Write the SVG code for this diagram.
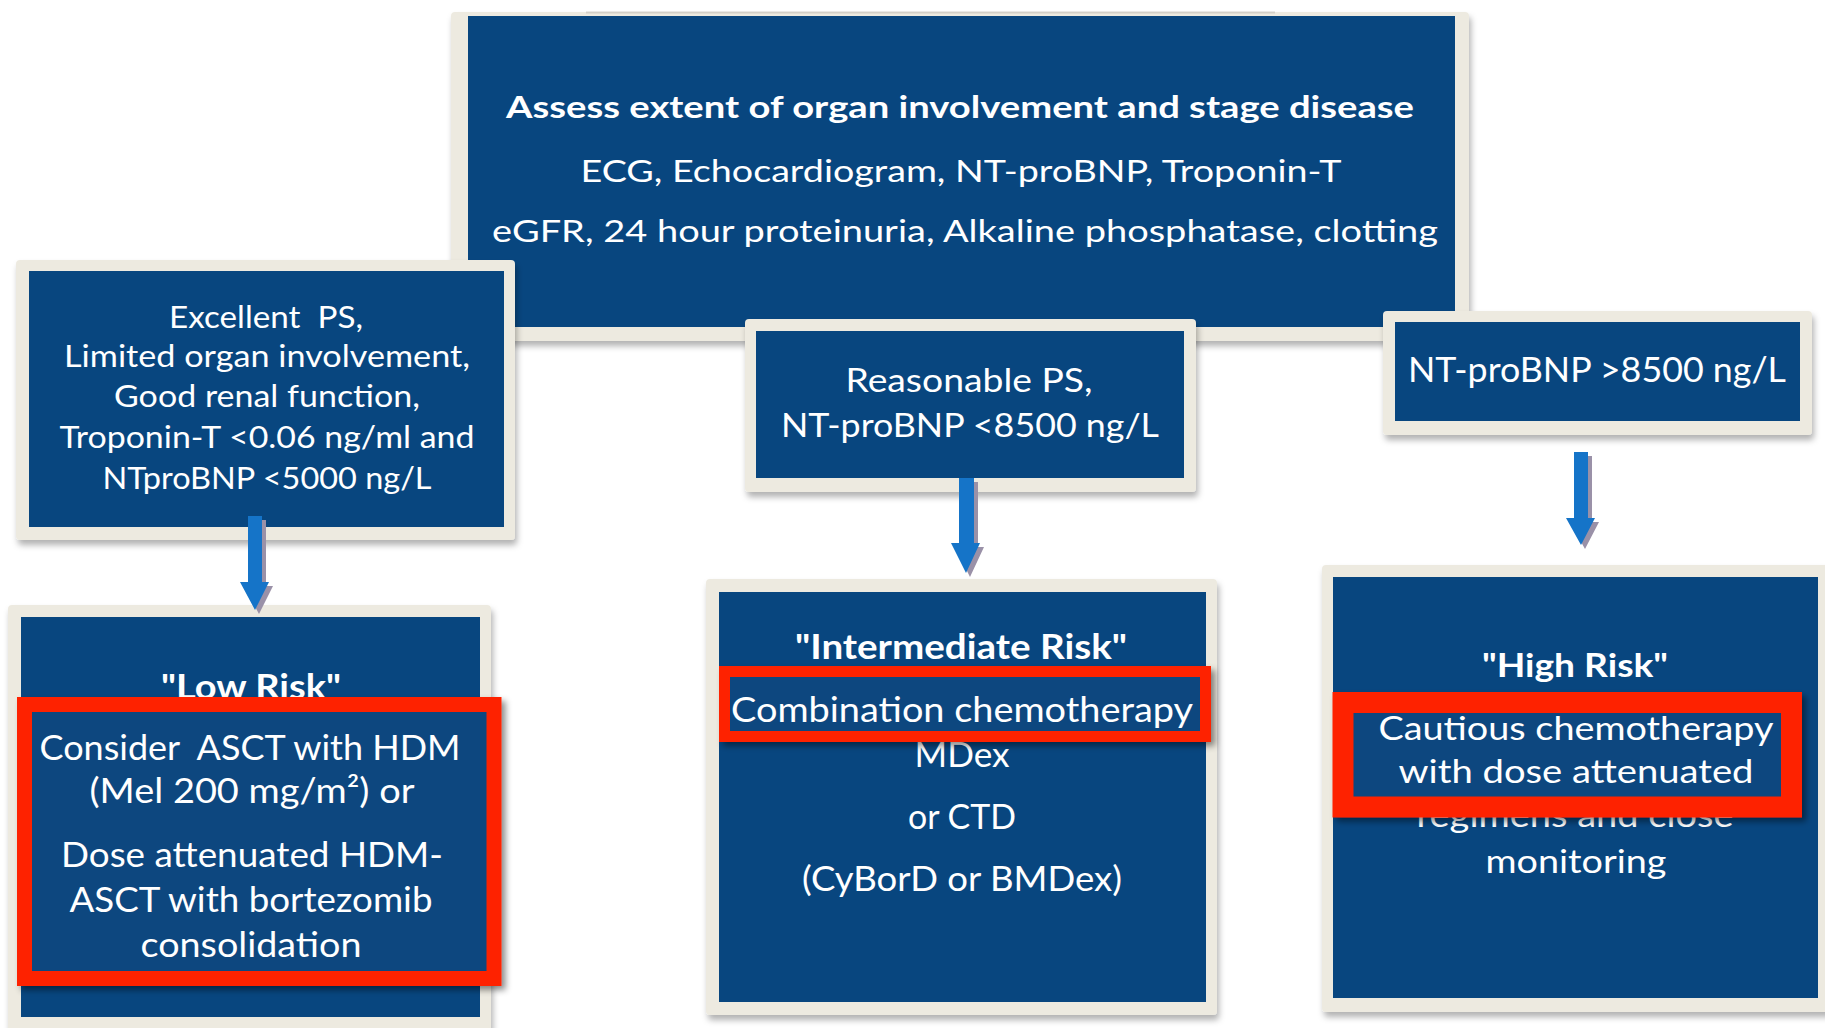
<svg xmlns="http://www.w3.org/2000/svg" width="1825" height="1028" viewBox="0 0 1825 1028">
<defs>
<filter id="sh" x="-10%" y="-10%" width="125%" height="130%">
<feDropShadow dx="2" dy="5" stdDeviation="3" flood-color="#000" flood-opacity="0.3"/>
</filter>
<filter id="rsh" x="-10%" y="-20%" width="125%" height="150%">
<feDropShadow dx="4" dy="4" stdDeviation="3" flood-color="#000" flood-opacity="0.45"/>
</filter>
<style>
.cream{fill:#EDEAE0;}
.blue{fill:#08467F;}
.red{fill:#08467F;stroke:#FE2400;}
text{fill:#FFFFFF;font-family:"Lato","Open Sans",sans-serif;text-anchor:middle;}
.b{font-weight:bold;}
.arrow{fill:#1574C8;}
.ashadow{fill:#9A91A8;}
</style>
</defs>
<rect width="1825" height="1028" fill="#FFFFFF"/>

<g id="node-assess">
<rect class="cream" x="451" y="12" width="1018" height="329" rx="4" filter="url(#sh)"/>
<line x1="586" y1="12.5" x2="1275" y2="12.5" stroke="#C9C5BE" stroke-width="2" opacity="0.7"/>
<rect class="blue" x="468" y="16" width="987" height="311"/>
<text class="b" x="960" y="118" font-size="31" textLength="908" lengthAdjust="spacingAndGlyphs">Assess extent of organ involvement and stage disease</text>
<text x="961" y="182" font-size="31" textLength="761" lengthAdjust="spacingAndGlyphs">ECG, Echocardiogram, NT-proBNP, Troponin-T</text>
<text x="965" y="242" font-size="31" textLength="946" lengthAdjust="spacingAndGlyphs">eGFR, 24 hour proteinuria, Alkaline phosphatase, clotting</text>
</g>

<g id="node-excellent">
<rect class="cream" x="16" y="260" width="499" height="280" rx="4" filter="url(#sh)"/>
<rect class="blue" x="29" y="271" width="475" height="256"/>
<text x="266" y="328" font-size="31" textLength="194" lengthAdjust="spacingAndGlyphs" xml:space="preserve">Excellent  PS,</text>
<text x="267" y="367" font-size="31" textLength="406" lengthAdjust="spacingAndGlyphs">Limited organ involvement,</text>
<text x="267" y="407" font-size="31" textLength="306" lengthAdjust="spacingAndGlyphs">Good renal function,</text>
<text x="267" y="448" font-size="31" textLength="415" lengthAdjust="spacingAndGlyphs">Troponin-T &lt;0.06 ng/ml and</text>
<text x="267" y="489" font-size="31" textLength="329" lengthAdjust="spacingAndGlyphs">NTproBNP &lt;5000 ng/L</text>
</g>

<g id="node-reasonable">
<rect class="cream" x="745" y="319" width="451" height="173" rx="4" filter="url(#sh)"/>
<rect class="blue" x="756" y="331" width="428" height="147"/>
<text x="969" y="392" font-size="32" textLength="247" lengthAdjust="spacingAndGlyphs">Reasonable PS,</text>
<text x="970" y="437" font-size="32" textLength="378" lengthAdjust="spacingAndGlyphs">NT-proBNP &lt;8500 ng/L</text>
</g>

<g id="node-ntprobnp-high">
<rect class="cream" x="1383" y="311" width="429" height="124" rx="4" filter="url(#sh)"/>
<rect class="blue" x="1395" y="322" width="405" height="99"/>
<text x="1597" y="382" font-size="34" textLength="378" lengthAdjust="spacingAndGlyphs">NT-proBNP &gt;8500 ng/L</text>
</g>

<g id="node-low-risk">
<rect class="cream" x="8" y="605" width="483" height="440" rx="4" filter="url(#sh)"/>
<rect class="blue" x="21" y="617" width="459" height="400"/>
<text class="b" x="251" y="699" font-size="35" textLength="180" lengthAdjust="spacingAndGlyphs">"Low Risk"</text>
<rect class="red" x="24.5" y="704.5" width="469.5" height="274" stroke-width="15" filter="url(#rsh)"/>
<text x="250" y="760" font-size="35" textLength="421" lengthAdjust="spacingAndGlyphs" xml:space="preserve">Consider  ASCT with HDM</text>
<text x="252" y="803" font-size="35" textLength="325" lengthAdjust="spacingAndGlyphs">(Mel 200 mg/m²) or</text>
<text x="252" y="867" font-size="35" textLength="382" lengthAdjust="spacingAndGlyphs">Dose attenuated HDM-</text>
<text x="251" y="912" font-size="35" textLength="363" lengthAdjust="spacingAndGlyphs">ASCT with bortezomib</text>
<text x="251" y="957" font-size="35" textLength="221" lengthAdjust="spacingAndGlyphs">consolidation</text>
</g>

<g id="node-intermediate-risk">
<rect class="cream" x="706" y="579" width="511" height="436" rx="4" filter="url(#sh)"/>
<rect class="blue" x="719" y="592" width="487" height="410"/>
<text class="b" x="961" y="659" font-size="34" textLength="332" lengthAdjust="spacingAndGlyphs">"Intermediate Risk"</text>
<text x="962" y="767" font-size="34" textLength="95" lengthAdjust="spacingAndGlyphs">MDex</text>
<text x="962" y="829" font-size="34" textLength="108" lengthAdjust="spacingAndGlyphs">or CTD</text>
<text x="962" y="891" font-size="34" textLength="320" lengthAdjust="spacingAndGlyphs">(CyBorD or BMDex)</text>
<rect class="red" x="724.5" y="671.5" width="481" height="65" stroke-width="11" filter="url(#rsh)"/>
<text x="962" y="722" font-size="34" textLength="462" lengthAdjust="spacingAndGlyphs">Combination chemotherapy</text>
</g>

<g id="node-high-risk">
<rect class="cream" x="1322" y="565" width="520" height="447" rx="4" filter="url(#sh)"/>
<rect class="blue" x="1333" y="577" width="485" height="421"/>
<text class="b" x="1575" y="677" font-size="33" textLength="186" lengthAdjust="spacingAndGlyphs">"High Risk"</text>
<text x="1575" y="827" font-size="32" textLength="317" lengthAdjust="spacingAndGlyphs">regimens and close</text>
<text x="1576" y="873" font-size="32" textLength="181" lengthAdjust="spacingAndGlyphs">monitoring</text>
<rect class="red" x="1343" y="702.5" width="448.5" height="104.5" stroke-width="21" filter="url(#rsh)"/>
<text x="1576" y="740" font-size="32" textLength="395" lengthAdjust="spacingAndGlyphs">Cautious chemotherapy</text>
<text x="1576" y="783" font-size="32" textLength="355" lengthAdjust="spacingAndGlyphs">with dose attenuated</text>
</g>

<g id="connectors">
<polygon class="ashadow" points="252,520 266,520 266,586 273,586 259,614 244,586 252,586"/>
<polygon class="arrow" points="248,516 262,516 262,582 269,582 255,610 240,582 248,582"/>
<polygon class="ashadow" points="963,482 978,482 978,547 984,547 970,577 955,547 963,547"/>
<polygon class="arrow" points="959,478 974,478 974,543 980,543 966,573 951,543 959,543"/>
<polygon class="ashadow" points="1578,456 1592,456 1592,522 1599,522 1585,549 1570,522 1578,522"/>
<polygon class="arrow" points="1574,452 1588,452 1588,518 1595,518 1581,545 1566,518 1574,518"/>
</g>
</svg>
